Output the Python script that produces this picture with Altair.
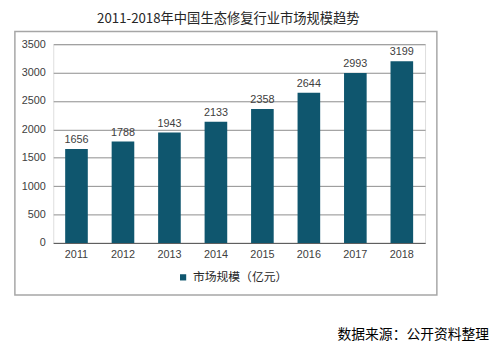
import altair as alt
import pandas as pd

years = ["2011", "2012", "2013", "2014", "2015", "2016", "2017", "2018"]
values = [1656, 1788, 1943, 2133, 2358, 2644, 2993, 3199]
series_name = "市场规模（亿元）"
title_text = "2011-2018年中国生态修复行业市场规模趋势"
source_text = "数据来源：公开资料整理"
y_ticks = [0, 500, 1000, 1500, 2000, 2500, 3000, 3500]

BAR = "#0f566e"
NUM_FONT = "Liberation Sans"
CJK_FONT = "Noto Sans CJK SC"

df = pd.DataFrame({"year": years, "value": values, "series": [series_name] * len(years)})
one = pd.DataFrame({"k": [0]})

W, H = 378, 202

x = alt.X("year:N", sort=years, title=None,
          scale=alt.Scale(paddingInner=0.52, paddingOuter=0.26),
          axis=alt.Axis(labelAngle=0, ticks=False, domainColor="#595959", domainWidth=1,
                        labelFont=NUM_FONT, labelFontSize=11, labelColor="#404040",
                        labelPadding=6, grid=False))
y = alt.Y("value:Q", title=None,
          scale=alt.Scale(domain=[0, 3500], nice=False),
          axis=alt.Axis(values=y_ticks, format="d", ticks=False, domain=False,
                        gridColor="#8c8c8c", gridWidth=1,
                        labelFont=NUM_FONT, labelFontSize=11, labelColor="#404040",
                        labelPadding=8))

frame = alt.Chart(one).mark_rect(fill=None, stroke="#a6a6a6", strokeWidth=1.5).encode(
    x=alt.value(-39), x2=alt.value(390), y=alt.value(-13), y2=alt.value(255)
)

bars = alt.Chart(df).mark_bar(size=23).encode(
    x=x, y=y,
    color=alt.Color("series:N", scale=alt.Scale(domain=[series_name], range=[BAR]),
                    legend=alt.Legend(title=None, orient="none", legendX=126, legendY=231,
                                      symbolType="square", symbolSize=40, padding=0,
                                      labelFont=CJK_FONT, labelFontSize=12,
                                      labelColor="#262626", symbolStrokeWidth=0))
)

labels = alt.Chart(df).mark_text(dy=-9, font=NUM_FONT, fontSize=11, color="#404040").encode(
    x=x, y=y, text="value:Q"
)

title = alt.Chart(one).mark_text(font=CJK_FONT, fontSize=13.5, color="#262626", align="center",
                                 baseline="middle").encode(
    x=alt.value(178), y=alt.value(-26), text=alt.value(title_text)
)

source = alt.Chart(one).mark_text(font=CJK_FONT, fontSize=14, color="#000000", align="right",
                                  baseline="middle").encode(
    x=alt.value(443), y=alt.value(296), text=alt.value(source_text)
)

chart = alt.layer(frame, bars, labels, title, source).properties(
    width=W, height=H,
    autosize=alt.AutoSizeParams(type="none"),
    padding={"left": 46, "top": 34, "right": 65, "bottom": 105},
).configure_view(stroke=None).configure(background="white")

chart.save("out.html", embed_options={"renderer": "svg", "actions": False})
